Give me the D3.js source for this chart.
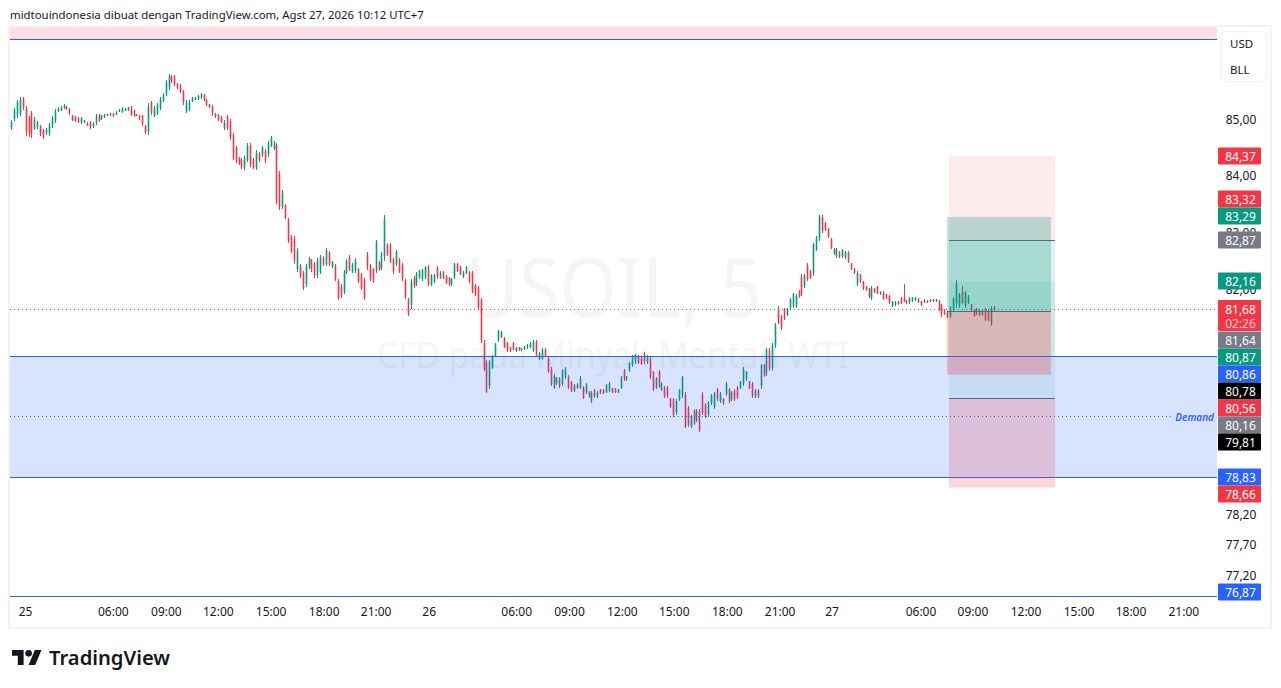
<!DOCTYPE html>
<html><head><meta charset="utf-8">
<script src="https://cdn.jsdelivr.net/npm/d3@7/dist/d3.min.js"></script>
<style>
html,body{margin:0;padding:0;background:#fff;overflow:hidden}
svg{display:block}
text{font-family:"Noto Sans",sans-serif}
</style></head><body><svg id="c" width="1281" height="688"></svg>
<script>
const high=[
85.02,85.23,85.38,85.43,85.43,85.26,85.08,85.18,85.07,85.00,
84.93,84.86,84.87,84.96,85.09,85.21,85.24,85.26,85.31,85.27,
85.23,85.11,85.09,85.07,85.07,85.02,84.97,84.99,84.97,85.13,
85.13,85.11,85.12,85.13,85.14,85.14,85.17,85.22,85.25,85.23,
85.25,85.26,85.20,85.13,85.11,85.11,84.93,85.32,85.36,85.26,
85.32,85.43,85.50,85.74,85.85,85.82,85.83,85.68,85.66,85.56,
85.38,85.37,85.43,85.43,85.47,85.50,85.49,85.39,85.31,85.29,
85.14,85.12,85.08,85.01,85.11,85.03,84.78,84.55,84.36,84.33,
84.37,84.60,84.60,84.33,84.47,84.45,84.55,84.49,84.63,84.73,
84.63,84.60,84.10,83.76,83.52,83.28,82.98,82.95,82.74,82.47,
82.35,82.47,82.59,82.56,82.50,82.57,82.62,82.60,82.75,82.69,
82.52,82.46,82.21,82.11,82.37,82.55,82.63,82.49,82.57,82.40,
82.31,82.23,82.67,82.46,82.40,82.89,82.52,82.67,83.33,82.84,
82.84,82.57,82.71,82.57,82.49,82.21,81.88,82.20,82.26,82.33,
82.37,82.38,82.43,82.44,82.29,82.30,82.43,82.34,82.34,82.27,
82.24,82.23,82.49,82.49,82.43,82.34,82.43,82.34,82.34,82.11,
82.08,81.88,81.15,80.81,80.81,80.89,81.10,81.33,81.31,81.21,
81.12,81.04,81.12,81.04,81.04,81.02,81.05,81.08,81.11,81.15,
81.15,80.95,81.01,81.01,80.86,80.69,80.57,80.52,80.52,80.66,
80.69,80.56,80.46,80.40,80.41,80.53,80.37,80.41,80.28,80.28,
80.31,80.28,80.31,80.31,80.40,80.43,80.34,80.33,80.31,80.54,
80.66,80.54,80.78,80.89,80.92,80.89,80.86,80.95,80.89,80.86,
80.63,80.52,80.64,80.43,80.37,80.37,80.17,80.17,80.14,80.31,
80.54,80.26,80.02,79.88,79.97,79.97,79.97,80.26,80.08,80.11,
80.23,80.26,80.34,80.26,80.17,80.43,80.34,80.28,80.31,80.37,
80.46,80.69,80.63,80.46,80.43,80.31,80.31,80.75,80.75,81.01,
81.01,81.10,81.44,81.73,81.59,81.70,81.70,81.88,81.97,81.94,
82.02,82.29,82.29,82.49,82.37,82.84,82.95,83.33,83.33,83.21,
83.10,82.92,82.75,82.75,82.69,82.73,82.69,82.69,82.49,82.40,
82.34,82.30,82.17,82.08,82.05,82.09,82.05,82.09,82.00,81.99,
81.95,81.93,81.83,81.82,81.82,81.89,82.12,81.84,81.89,81.89,
81.89,81.87,81.83,81.86,81.84,81.86,81.86,81.86,81.84,81.77,
81.68,81.64,81.74,81.89,82.18,81.97,82.09,82.00,81.92,81.77,
81.69,81.71,81.68,81.68,81.71,81.68,81.74,81.74];
const low=[
84.84,84.99,85.05,85.08,85.20,84.72,84.71,84.70,84.83,84.85,
84.72,84.67,84.75,84.73,84.87,84.96,85.15,85.17,85.21,85.20,
85.11,84.99,84.98,84.96,84.95,84.96,84.90,84.85,84.87,84.93,
84.98,85.01,85.05,85.08,85.09,85.07,85.10,85.16,85.14,85.17,
85.17,85.08,85.07,85.08,85.02,84.91,84.77,84.75,85.11,85.07,
85.11,85.20,85.33,85.44,85.56,85.68,85.62,85.57,85.50,85.29,
85.14,85.17,85.33,85.37,85.38,85.40,85.35,85.26,85.23,85.08,
85.05,84.99,84.96,84.83,84.83,84.66,84.29,84.24,84.21,84.13,
84.12,84.27,84.17,84.13,84.12,84.27,84.36,84.25,84.36,84.53,
84.47,83.52,83.42,83.43,83.25,82.83,82.65,82.47,82.32,82.23,
82.01,82.07,82.38,82.33,82.23,82.23,82.29,82.43,82.43,82.43,
82.40,82.17,81.84,81.88,81.94,82.29,82.34,82.31,82.31,82.14,
82.02,81.84,82.37,82.17,82.14,82.31,82.34,82.36,82.52,82.60,
82.49,82.30,82.43,82.31,82.17,81.85,81.56,81.68,82.05,82.08,
82.20,82.17,82.20,82.09,82.08,82.14,82.21,82.20,82.20,82.11,
82.09,82.09,82.20,82.33,82.27,82.23,82.29,82.14,81.97,81.91,
81.68,81.10,80.62,80.24,80.31,80.66,80.86,81.12,81.18,81.01,
80.95,80.95,80.98,80.95,80.97,80.97,80.98,80.99,81.01,80.95,
80.86,80.81,80.81,80.86,80.59,80.37,80.31,80.39,80.34,80.37,
80.49,80.31,80.26,80.26,80.31,80.31,80.14,80.23,80.17,80.08,
80.17,80.17,80.23,80.23,80.24,80.26,80.24,80.24,80.24,80.31,
80.46,80.46,80.60,80.69,80.75,80.74,80.72,80.75,80.75,80.49,
80.28,80.31,80.34,80.28,80.17,80.17,79.99,79.85,79.88,80.11,
80.17,79.65,79.68,79.65,79.70,79.76,79.59,79.88,79.82,79.85,
80.05,79.97,80.11,80.08,80.05,80.20,80.08,80.11,80.11,80.14,
80.31,80.37,80.46,80.31,80.17,80.17,80.17,80.31,80.52,80.54,
80.63,80.63,81.01,81.42,81.33,81.50,81.56,81.68,81.70,81.70,
81.88,81.91,82.05,82.17,82.20,82.26,82.69,82.87,83.01,83.04,
82.92,82.72,82.63,82.57,82.57,82.57,82.55,82.49,82.37,82.29,
82.08,82.14,82.02,82.00,81.88,81.84,81.97,81.94,81.93,81.84,
81.86,81.77,81.72,81.74,81.76,81.77,81.80,81.77,81.77,81.80,
81.83,81.79,81.74,81.79,81.79,81.80,81.80,81.80,81.65,81.55,
81.59,81.53,81.53,81.65,81.71,81.71,81.77,81.71,81.77,81.65,
81.55,81.59,81.56,81.56,81.47,81.47,81.40,81.65];
const open=[
84.88,85.03,85.10,85.12,85.40,85.22,85.05,85.14,84.87,84.89,
84.90,84.83,84.78,84.77,84.91,85.00,85.17,85.19,85.23,85.25,
85.21,85.09,85.07,85.05,84.97,84.98,84.95,84.97,84.89,84.96,
85.11,85.03,85.07,85.09,85.13,85.13,85.11,85.17,85.16,85.18,
85.19,85.24,85.18,85.09,85.09,85.09,84.91,84.80,85.33,85.09,
85.14,85.23,85.36,85.48,85.60,85.80,85.80,85.66,85.63,85.53,
85.17,85.20,85.35,85.38,85.40,85.42,85.47,85.37,85.29,85.26,
85.07,85.10,85.06,84.87,85.08,85.00,84.74,84.51,84.33,84.30,
84.16,84.30,84.56,84.30,84.16,84.42,84.39,84.46,84.40,84.56,
84.50,84.55,84.05,83.47,83.49,83.24,82.94,82.90,82.37,82.44,
82.31,82.12,82.41,82.53,82.47,82.27,82.32,82.57,82.46,82.66,
82.42,82.43,82.17,82.07,81.98,82.32,82.59,82.33,82.34,82.37,
82.28,82.19,82.63,82.43,82.37,82.35,82.50,82.39,82.60,82.80,
82.80,82.54,82.46,82.54,82.45,82.18,81.85,81.75,82.23,82.11,
82.23,82.20,82.23,82.41,82.11,82.16,82.40,82.22,82.32,82.25,
82.22,82.11,82.24,82.47,82.41,82.25,82.31,82.32,82.31,82.09,
82.05,81.85,81.10,80.77,80.36,80.68,80.88,81.15,81.20,81.19,
81.10,81.02,81.10,80.97,81.03,80.98,81.00,81.01,81.03,80.98,
81.12,80.83,80.84,80.98,80.83,80.66,80.34,80.41,80.50,80.40,
80.52,80.53,80.44,80.28,80.39,80.34,80.34,80.26,80.27,80.11,
80.29,80.19,80.30,80.30,80.26,80.29,80.33,80.32,80.26,80.34,
80.63,80.48,80.63,80.72,80.78,80.87,80.84,80.92,80.78,80.83,
80.60,80.34,80.61,80.31,80.34,80.34,80.15,80.14,79.92,80.14,
80.21,80.22,79.99,79.68,79.94,79.79,79.94,80.22,80.05,79.89,
80.08,80.01,80.31,80.11,80.15,80.23,80.31,80.14,80.28,80.34,
80.33,80.41,80.49,80.44,80.40,80.19,80.29,80.36,80.72,80.60,
80.97,80.68,81.06,81.69,81.56,81.67,81.58,81.71,81.74,81.74,
82.00,82.25,82.08,82.45,82.35,82.31,82.72,82.92,83.29,83.18,
83.08,82.90,82.65,82.60,82.67,82.60,82.58,82.66,82.47,82.38,
82.12,82.28,82.15,82.07,82.03,81.88,82.03,82.07,81.95,81.97,
81.94,81.91,81.74,81.76,81.81,81.87,81.88,81.83,81.79,81.82,
81.84,81.86,81.82,81.80,81.83,81.81,81.85,81.81,81.82,81.75,
81.66,81.63,81.56,81.69,81.78,81.75,81.98,81.75,81.79,81.76,
81.67,81.62,81.66,81.59,81.68,81.65,81.44,81.72];
const close=[
84.98,85.19,85.34,85.38,85.24,84.80,84.77,84.78,85.02,84.97,
84.76,84.70,84.84,84.92,85.05,85.17,85.22,85.24,85.29,85.22,
85.14,85.01,85.00,84.98,85.05,85.01,84.92,84.88,84.95,85.09,
85.01,85.09,85.10,85.12,85.10,85.09,85.15,85.20,85.22,85.22,
85.24,85.11,85.09,85.12,85.04,84.94,84.80,85.25,85.15,85.22,
85.29,85.39,85.46,85.69,85.80,85.71,85.65,85.59,85.53,85.33,
85.34,85.33,85.41,85.42,85.45,85.48,85.37,85.28,85.25,85.12,
85.12,85.02,84.98,84.97,84.87,84.70,84.33,84.28,84.24,84.17,
84.33,84.56,84.21,84.16,84.43,84.30,84.52,84.29,84.60,84.70,
84.60,83.58,83.47,83.72,83.28,82.87,82.69,82.52,82.70,82.27,
82.05,82.43,82.56,82.37,82.27,82.53,82.58,82.46,82.71,82.47,
82.50,82.20,81.88,81.92,82.33,82.52,82.37,82.46,82.53,82.17,
82.05,81.88,82.41,82.20,82.17,82.85,82.37,82.64,83.25,82.63,
82.52,82.33,82.68,82.34,82.20,81.89,81.60,82.17,82.08,82.30,
82.35,82.36,82.41,82.12,82.27,82.28,82.24,82.32,82.22,82.13,
82.11,82.21,82.46,82.35,82.29,82.32,82.41,82.16,82.00,81.93,
81.71,81.14,80.65,80.27,80.77,80.86,81.08,81.31,81.29,81.03,
80.97,80.97,81.00,81.02,80.99,81.01,81.04,81.07,81.09,81.13,
80.88,80.93,80.98,80.88,80.61,80.40,80.54,80.50,80.36,80.63,
80.66,80.34,80.28,80.38,80.33,80.50,80.17,80.39,80.19,80.25,
80.19,80.26,80.25,80.25,80.38,80.41,80.26,80.26,80.30,80.51,
80.49,80.52,80.76,80.87,80.90,80.76,80.74,80.78,80.87,80.52,
80.31,80.49,80.37,80.41,80.20,80.20,80.02,79.88,80.11,80.29,
80.51,79.68,79.71,79.85,79.73,79.95,79.62,79.91,79.85,80.08,
80.21,80.24,80.14,80.24,80.07,80.41,80.11,80.26,80.14,80.17,
80.44,80.66,80.61,80.33,80.20,80.29,80.19,80.72,80.55,80.98,
80.66,81.07,81.41,81.45,81.36,81.52,81.68,81.85,81.94,81.91,
81.90,81.94,82.27,82.20,82.22,82.81,82.92,83.30,83.05,83.07,
82.95,82.75,82.73,82.72,82.59,82.71,82.67,82.52,82.39,82.31,
82.31,82.17,82.04,82.02,81.90,82.05,81.99,81.96,81.98,81.86,
81.88,81.80,81.81,81.80,81.78,81.79,81.82,81.79,81.87,81.87,
81.87,81.81,81.76,81.84,81.80,81.84,81.82,81.85,81.67,81.58,
81.61,81.55,81.71,81.86,82.13,81.94,81.79,81.97,81.89,81.67,
81.57,81.69,81.58,81.66,81.50,81.49,81.70,81.67];

// price axis ticks
const priceTicks=[85,84,83,82,78.2,77.7,77.2];
// time axis: bar position of each label (one bar = 10 min), and its text
const timeTickBars=[4.8,34.9,53.1,70.9,89,107.2,125,143.2,173.2,191.3,209.4,227.2,245.4,263.5,281.3,311.8,329.6,347.8,366,383.8,401.9];
const timeTickLabels=["25","06:00","09:00","12:00","15:00","18:00","21:00","26","06:00","09:00","12:00","15:00","18:00","21:00","27","06:00","09:00","12:00","15:00","18:00","21:00"];
// horizontal levels
const lastPrice=81.68, supplyBottom=86.48, demandTop=80.87, demandBottom=78.83, demandMid=79.85, floorLevel=76.87;
// three position tools: target, entry, stop
const posA=[83.29,81.64,80.56], posB=[80.87,82.87,84.37], posC=[82.16,80.16,78.66];
// right-hand price labels, top to bottom
const labelPrices=[84.37,83.32,83.29,82.87,82.16,81.68,81.64,80.87,80.86,80.78,80.56,80.16,79.81,78.83,78.66,76.87];
const labelKinds=["r","r","g","x","g","r","x","g","b","k","r","x","k","b","r","b"];
const labelCentres=[156,199,216,240,281,309,340,357,374,391,408,425,442,477,494,592];

const C={r:"#f23645",g:"#089981",x:"#787b86",b:"#2962ff",k:"#000000"};
const F='"Noto Sans",sans-serif';
const svg=d3.select("#c");
const paneL=10,paneR=1216,paneT=27,paneB=597;
const fmt=d3.formatLocale({decimal:",",thousands:".",grouping:[3],currency:["",""]}).format(".2f");
const y=d3.scaleLog().domain([85,76.87]).range([120.8,596.5]);
const x=d3.scaleLinear().domain([0,337]).range([11,994]);

// frame
svg.append("rect").attr("x",paneL-1).attr("y",paneT-1).attr("width",1262).attr("height",602).attr("fill","none").attr("stroke","#f0f3fa").attr("stroke-width",2);
svg.append("text").attr("x",10).attr("y",19).attr("font-size",11.4).attr("fill","#131722").text("midtouindonesia dibuat dengan TradingView.com, Agst 27, 2026 10:12 UTC+7");

const defs=svg.append("defs");
defs.append("clipPath").attr("id","pane").append("rect").attr("x",paneL).attr("y",paneT).attr("width",paneR-paneL+1).attr("height",paneB-paneT);

const g=svg.append("g").attr("clip-path","url(#pane)");
// watermark
g.append("text").attr("x",465).attr("y",317).attr("textLength",297).attr("lengthAdjust","spacingAndGlyphs").attr("font-size",83).attr("fill","#131722").attr("opacity",.04).text("USOIL, 5");
g.append("text").attr("x",377).attr("y",368).attr("textLength",472).attr("lengthAdjust","spacingAndGlyphs").attr("font-size",36).attr("fill","#131722").attr("opacity",.04).text("CFD pada Minyak Mentah WTI");

// candles
const idx=d3.range(high.length);
const col=i=>close[i]>=open[i]?C.g:C.r;
const cg=g.append("g");
cg.selectAll(".w").data(idx).join("rect").attr("class","w").attr("shape-rendering","crispEdges")
 .attr("x",i=>Math.round(x(i))).attr("width",1)
 .attr("y",i=>y(high[i])).attr("height",i=>y(low[i])-y(high[i])).attr("fill",col);
cg.selectAll(".b").data(idx).join("rect").attr("class","b")
 .attr("x",i=>Math.round(x(i))-.3).attr("width",1.6)
 .attr("y",i=>y(Math.max(open[i],close[i])))
 .attr("height",i=>Math.max(1,Math.abs(y(open[i])-y(close[i])))).attr("fill",col);

// zones
const hr=(a,b,xa,xb,fill,op)=>g.append("rect").attr("x",xa).attr("width",xb-xa).attr("y",Math.min(a,b)).attr("height",Math.abs(b-a)).attr("fill",fill).attr("fill-opacity",op);
hr(paneT,y(supplyBottom),paneL,paneR+1,"#f23645",.16);
hr(y(demandTop),y(demandBottom),paneL,paneR+1,"#2962ff",.18);
const line=(v,xa,xb,stroke,dash,op,w)=>g.append("line").attr("x1",xa).attr("x2",xb).attr("y1",y(v)).attr("y2",y(v)).attr("stroke",stroke).attr("stroke-width",w||1).attr("stroke-dasharray",dash||null).attr("stroke-opacity",op||1).attr("shape-rendering","crispEdges");
[supplyBottom,demandTop,demandBottom,floorLevel].forEach(v=>line(v,paneL,paneR+1,"#2962ff"));
line(demandMid,paneL,1174,"#2962ff","1 3");
line(lastPrice,paneL,paneR+1,"#f23645","1 3");
g.append("text").attr("x",1214).attr("y",y(demandMid)+4).attr("text-anchor","end").attr("font-size",10).attr("font-style","italic").attr("font-weight",600).attr("fill","#2962ff").text("Demand");

// position tools
function pos(p,xa,xb,gr,re){
 const [t,e,s]=p;
 hr(y(t),y(e),xa,xb,C.g,gr);
 hr(y(e),y(s),xa,xb,C.r,re);
 line(e,xa,xb,"#5d6675");
}
pos(posB,949,1055,.12,.10);
pos(posC,949,1055,.09,.2);
pos(posA,947,1051,.27,.28);

// price axis
const ax=svg.append("g").attr("transform",`translate(${1241},-1)`)
 .call(d3.axisRight(y).tickValues(priceTicks).tickFormat(fmt).tickSize(0));
ax.select(".domain").remove();
ax.selectAll("text").attr("x",0).attr("text-anchor","middle").attr("font-family",F).attr("font-size",12).attr("fill","#131722");

// time axis
const tx=svg.append("g").attr("transform",`translate(0,${paneB+7})`)
 .call(d3.axisBottom(x).tickValues(timeTickBars).tickFormat((d,i)=>timeTickLabels[i]).tickSize(0));
tx.select(".domain").remove();
tx.selectAll("text").attr("font-family",F).attr("font-size",12).attr("fill","#131722");

// price labels
const lg=svg.append("g");
labelPrices.forEach((p,i)=>{
 const cy=labelCentres[i], two=p===lastPrice;
 lg.append("rect").attr("x",1218).attr("y",two?cy-9:cy-8.5).attr("width",43).attr("height",two?31:17).attr("rx",1).attr("fill",C[labelKinds[i]]);
 lg.append("text").attr("x",1240.5).attr("y",cy+4.5).attr("text-anchor","middle").attr("font-size",12).attr("fill","#fff").text(fmt(p));
 if(two) lg.append("text").attr("x",1240.5).attr("y",cy+19).attr("text-anchor","middle").attr("font-size",12).attr("fill","#fff").attr("fill-opacity",.75).text("02:26");
});

// currency / unit box
svg.append("rect").attr("x",1221.5).attr("y",31.5).attr("width",45).attr("height",50).attr("rx",4).attr("fill","#fff").attr("stroke","#f0f3fa").attr("stroke-width",1.5);
svg.append("text").attr("x",1230).attr("y",48).attr("font-size",11.5).attr("fill","#131722").text("USD");
svg.append("text").attr("x",1230).attr("y",73.5).attr("font-size",11.5).attr("fill","#131722").text("BLL");

// logo
const lo=svg.append("g").attr("transform","translate(12,646.7) scale(.83)").attr("fill","#131722");
lo.append("path").attr("d","M14 22H7V11H0V4h14v18zM28 22h-8l7.5-18h8L28 22z");
lo.append("circle").attr("cx",20).attr("cy",8).attr("r",4);
svg.append("text").attr("x",49).attr("y",664.5).attr("font-size",20.2).attr("font-weight",600).attr("fill","#131722").attr("font-family","Inter,sans-serif").text("TradingView");
if(high.length!==low.length||open.length!==close.length||open.length!==high.length) throw new Error("len "+[high.length,low.length,open.length,close.length]);
</script></body></html>
